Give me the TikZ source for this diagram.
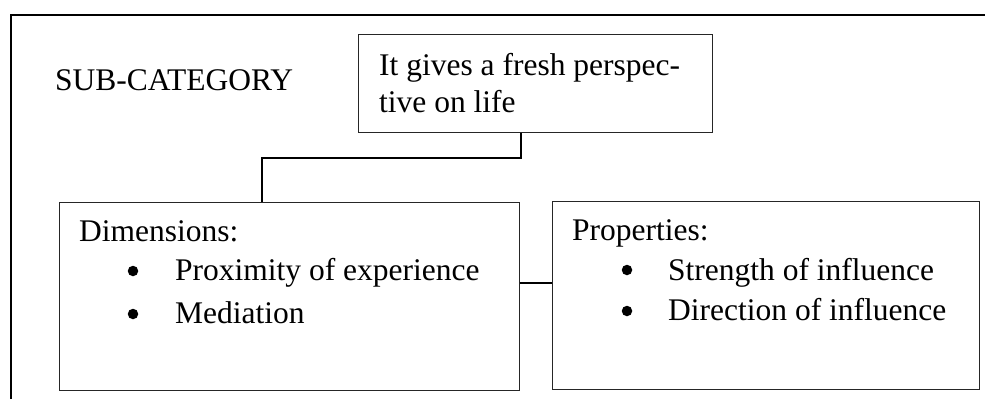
\documentclass[tikz,border=0pt]{standalone}
\usepackage{fontspec}
\setmainfont{Liberation Serif}
\begin{document}
\begin{tikzpicture}[x=1pt,y=-1pt,
  boxstyle/.style={draw=black!85, line width=1pt, rectangle, inner sep=0pt},
  link/.style={draw=black, line width=1.7pt},
  label/.style={anchor=base west, inner sep=0pt, font=\fontsize{31.5}{36}\selectfont},
  dot/.style={circle, fill=black, inner sep=0pt, minimum size=10.5pt}]
\useasboundingbox (0,0) rectangle (985,399);

% outer frame (top and left rules)
\draw[line width=2pt] (11,399) -- (11,15) -- (985,15);

% boxes
\node[boxstyle, minimum width=354pt, minimum height=98pt] (top) at (535,83) {};
\node[boxstyle, minimum width=460pt, minimum height=188pt] (dim) at (289,296) {};
\node[boxstyle, minimum width=427pt, minimum height=188pt] (prop) at (765.5,295) {};

% texts
\node[label] (sub) at (55,90) {SUB-CATEGORY};
\node[label] (t1) at (379,75) {It gives a fresh perspec-};
\node[label] (t2) at (379,112) {tive on life};

\node[label] (dh) at (79,241) {Dimensions:};
\node[dot] (db1) at (133,271) {};
\node[label] (d1) at (175,280) {Proximity of experience};
\node[dot] (db2) at (133,314) {};
\node[label] (d2) at (175,323) {Mediation};

\node[label] (ph) at (572,240) {Properties:};
\node[dot] (pb1) at (627,270) {};
\node[label] (p1) at (668,280) {Strength of influence};
\node[dot] (pb2) at (627,311) {};
\node[label] (p2) at (668,320) {Direction of influence};

% connectors
\coordinate (bendA) at (521,158);
\coordinate (bendB) at (262,158);
\coordinate (mid) at (535,283);
\draw[link] (bendA |- top.south) -- (bendA) -- (bendB) -- (bendB |- dim.north);
\draw[link, line width=1.4pt] (mid -| dim.east) -- (mid -| prop.west);
\end{tikzpicture}
\end{document}
